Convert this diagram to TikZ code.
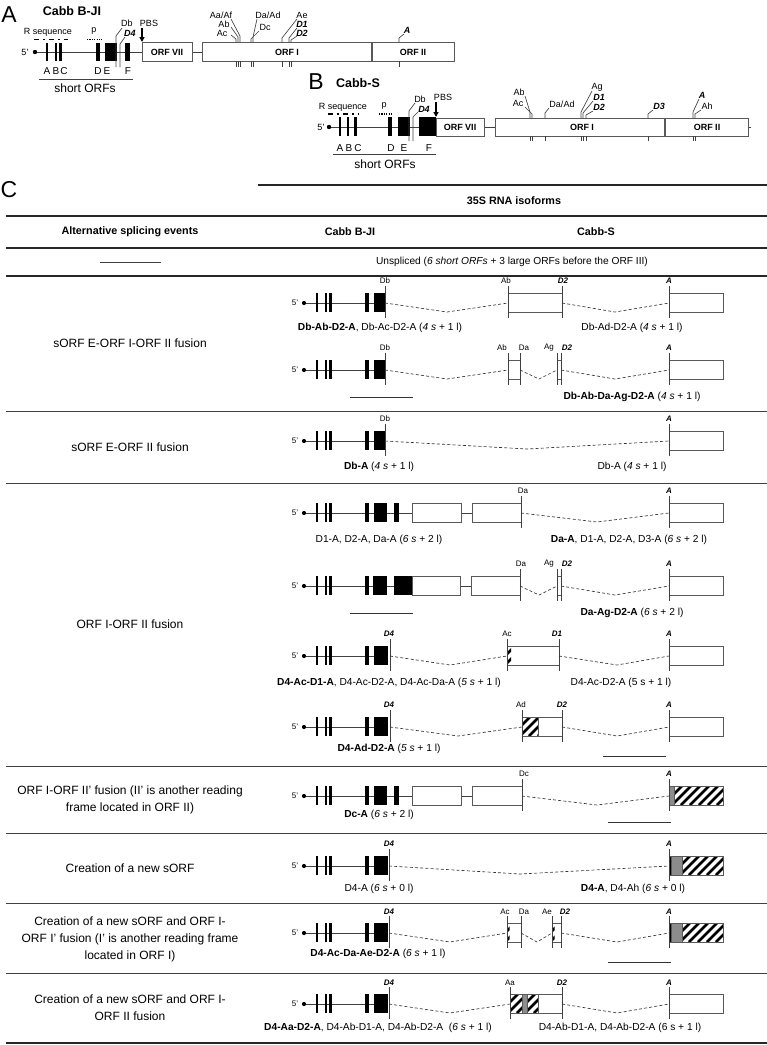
\documentclass[tikz,border=0pt]{standalone}
\usepackage{fontspec}
\setmainfont{Liberation Sans}
\usetikzlibrary{arrows.meta}

\tikzset{
  gene/.style={black!75, line width=0.8pt},
  orf/.style={draw=black!65, fill=white, line width=0.7pt},
  cut/.style={black!75, line width=0.65pt},
  splice/.style={black!80, line width=0.65pt, dash pattern=on 3pt off 2.2pt},
  rulethin/.style={black!75, line width=1pt},
  rulethick/.style={black!85, line width=1.7pt},
  scalebar/.style={black!80, line width=0.9pt},
  tsite/.style={font=\fontsize{8}{9}\selectfont, inner sep=0pt},
  btsite/.style={font=\fontsize{8}{9}\selectfont\bfseries\itshape, inner sep=0pt},
  msite/.style={font=\fontsize{9}{10}\selectfont, inner sep=0pt},
  bmsite/.style={font=\fontsize{9}{10}\selectfont\bfseries\itshape, inner sep=0pt},
  letter/.style={font=\fontsize{10}{11}\selectfont, inner sep=0pt},
  orflbl/.style={font=\fontsize{9}{10}\selectfont\bfseries, inner sep=0pt},
  panel/.style={font=\fontsize{23}{24}\selectfont, inner sep=0pt},
  ptitle/.style={font=\fontsize{12.5}{14}\selectfont\bfseries, inner sep=0pt},
  capt/.style={font=\fontsize{10.2}{12}\selectfont, inner sep=0pt},
  event/.style={font=\fontsize{12}{17}\selectfont, align=center, inner sep=0pt},
  colhead/.style={font=\fontsize{10.8}{12}\selectfont\bfseries, inner sep=0pt},
}

% genomic start of a table transcript: 5', cap, sORFs A-D
\newcommand{\sorfs}[2]{%
  \node[tsite] at (295,#1) {5'};
  \draw[gene] (304,#1) -- (#2,#1);
  \fill (304,#1) circle (2.1pt);
  \fill (316,#1-10) rectangle (318,#1+9);
  \fill (325,#1-10) rectangle (327,#1+9);
  \fill (329,#1-10) rectangle (332,#1+9);
  \fill (365,#1-10) rectangle (369,#1+9);
}
\newcommand{\cutat}[2]{\draw[cut] (#1,#2-17) -- (#1,#2+15);}
\newcommand{\exon}[3]{\draw[orf] (#1,#3-10) rectangle (#2,#3+9);}
\newcommand{\hatchbar}[3]{%
  \begin{scope}
    \clip (#1,#3-10) rectangle (#2,#3+9);
    \foreach \k in {-20,-11,...,60}
      \draw[line width=2.6pt] (#1+\k,#3+9) -- ++(19,-19);
  \end{scope}}

\begin{document}
\begin{tikzpicture}[x=1pt,y=-1pt]
\useasboundingbox (0,0) rectangle (767,1045);

% ---------- A: Cabb B-JI ----------
\node[panel] (pA) at (9,15) {A};
\node[ptitle] (tA) at (72,11) {Cabb B-JI};
\node[msite] (rsA) at (48,32) {R sequence};
\draw[line width=1.3pt, dash pattern=on 5pt off 4pt on 2pt off 4pt] (34,39.5) -- (68,39.5);
\node[msite] (ppA) at (94,31) {p};
\draw[line width=1.3pt, dash pattern=on 1.2pt off 1.2pt] (87,39.5) -- (102,39.5);
\node[msite] (fA) at (25,52) {5'};
\draw[gene] (35,52) -- (142,52) (192,52) -- (202,52);
\fill (35,52) circle (2.2pt);
\fill (46.3,43) rectangle (47.8,61);
\fill (55.3,43) rectangle (56.8,61);
\fill (59,43) rectangle (61.5,61);
\fill (96,43) rectangle (100,61);
\fill (105,43) rectangle (117,61);
\fill (125,43) rectangle (129.5,61);
\draw[cut] (116,67) -- (116,36) -- (122,28);
\node[msite] (dbA) at (127,23) {Db};
\draw[cut] (120,67) -- (120,44) -- (125,37);
\node[bmsite] (d4A) at (130,33) {D4};
\node[msite] (pbsA) at (149,23) {PBS};
\draw[-{Triangle[width=5pt,length=5pt]}, line width=1.3pt] (142,28) -- (142,42);
\draw[orf] (142,42) rectangle (192,61);
\draw[orf] (202,42) rectangle (371,61);
\draw[orf] (372,42) rectangle (454,61);
\node[orflbl] (o7A) at (167,52) {ORF VII};
\node[orflbl] (o1A) at (287,52) {ORF I};
\node[orflbl] (o2A) at (413,52) {ORF II};
\foreach \l/\x in {A/47,B/56,C/64,D/98,E/107,F/128}
  \node[letter] at (\x,71) {\l};
\draw[gene] (39,79) -- (133,79);
\node[font=\fontsize{12}{13}\selectfont, inner sep=0pt] (shA) at (85,88) {short ORFs};
% splice sites on ORF I / ORF II
\node[msite] (aaA) at (221,15) {Aa/Af};
\node[msite] (abA) at (224,24) {Ab};
\node[msite] (acA) at (222,33) {Ac};
\draw[cut] (231,19) -- (240,36) -- (240,42);
\draw[cut] (231,27) -- (238,37) -- (238,42);
\draw[cut] (231,35) -- (236,39) -- (236,42);
\node[msite] (daA) at (268,15) {Da/Ad};
\node[msite] (dcA) at (265,27) {Dc};
\draw[cut] (257,19) -- (253,37) -- (253,42);
\draw[cut] (259,31) -- (251,39) -- (251,42);
\node[msite] (aeA) at (302,15) {Ae};
\node[bmsite] (d1A) at (302,24) {D1};
\node[bmsite] (d2A) at (302,33) {D2};
\draw[cut] (297,19) -- (282,38) -- (282,42);
\draw[cut] (297,28) -- (289,38) -- (289,42);
\draw[cut] (297,36) -- (291,40) -- (291,42);
\node[bmsite] (aA) at (407,30) {A};
\draw[cut] (404,34) -- (399,38) -- (399,42);
\foreach \x in {236,238,240,251,253,282,289,291,399}
  \draw[cut] (\x,61) -- (\x,67);

% ---------- B: Cabb-S ----------
\node[panel] (pB) at (316,82) {B};
\node[ptitle] (tB) at (358,83) {Cabb-S};
\node[msite] (rsB) at (343,107) {R sequence};
\draw[line width=1.3pt, dash pattern=on 5pt off 4pt on 2pt off 4pt] (328,114) -- (359,114);
\node[msite] (ppB) at (384,106) {p};
\draw[line width=1.3pt, dash pattern=on 1.2pt off 1.2pt] (379,114) -- (393,114);
\node[msite] (fB) at (321,127) {5'};
\draw[gene] (329,127) -- (436,127) (484,127) -- (495,127) (748,127) -- (751,127);
\fill (329,127) circle (2.2pt);
\fill (339.3,117) rectangle (340.8,136);
\fill (347.3,117) rectangle (348.8,136);
\fill (353.5,117) rectangle (356.5,136);
\fill (388,117) rectangle (392,136);
\fill (398,117) rectangle (410,136);
\fill (419,117) rectangle (436,136);
\draw[cut] (409,141) -- (409,111) -- (415,103);
\node[msite] (dbB) at (420,99) {Db};
\draw[cut] (413,141) -- (413,117) -- (418,112);
\node[bmsite] (d4B) at (424,109) {D4};
\node[msite] (pbsB) at (443,97) {PBS};
\draw[-{Triangle[width=5pt,length=5pt]}, line width=1.3pt] (436,102) -- (436,117);
\draw[orf] (436,118) rectangle (484,136);
\draw[orf] (495,118) rectangle (664.5,136);
\draw[orf] (665.5,118) rectangle (748,136);
\node[orflbl] (o7B) at (460,127) {ORF VII};
\node[orflbl] (o1B) at (582,127) {ORF I};
\node[orflbl] (o2B) at (707,127) {ORF II};
\foreach \l/\x in {A/340,B/349,C/358,D/391,E/404,F/429}
  \node[letter] at (\x,148) {\l};
\draw[gene] (333,154) -- (436,154);
\node[font=\fontsize{12}{13}\selectfont, inner sep=0pt] (shB) at (385,164) {short ORFs};
\node[msite] (abB) at (519,92) {Ab};
\node[msite] (acB) at (518,103) {Ac};
\draw[cut] (525,96) -- (530,112) -- (530,118);
\draw[cut] (525,107) -- (532,114) -- (532,118);
\node[msite] (daB) at (562,104) {Da/Ad};
\draw[cut] (549,108) -- (545,113) -- (545,118);
\node[msite] (agB) at (597,87) {Ag};
\node[bmsite] (d1B) at (599,97) {D1};
\node[bmsite] (d2B) at (599,107) {D2};
\draw[cut] (592,91) -- (581,112) -- (581,118);
\draw[cut] (593,101) -- (583,113) -- (583,118);
\draw[cut] (593,111) -- (586,115) -- (586,118);
\node[bmsite] (d3B) at (659,106) {D3};
\draw[cut] (653,110) -- (648,114) -- (648,118);
\node[bmsite] (aB) at (702,95) {A};
\node[msite] (ahB) at (707,106) {Ah};
\draw[cut] (699,99) -- (693,112) -- (693,118);
\draw[cut] (701,110) -- (695,114) -- (695,118);
\foreach \x in {530,532,545,581,583,586,648,693,695}
  \draw[cut] (\x,136) -- (\x,141);

% ---------- C: table ----------
\node[panel] (pC) at (9,190) {C};
\draw[rulethick] (258,185) -- (767,185);
\node[colhead] (h35) at (514,201) {35S RNA isoforms};
\draw[rulethick] (6,216) -- (767,216);
\node[colhead] (hev) at (130,232) {Alternative splicing events};
\node[colhead] (hbj) at (350,232) {Cabb B-JI};
\node[colhead] (hcs) at (596,232) {Cabb-S};
\draw[rulethick] (6,248) -- (767,248);
\draw[rulethin] (100,262) -- (161,262);
\node[capt] (uns) at (512,262) {Unspliced (\textit{6 short ORFs} + 3 large ORFs before the ORF III)};
\draw[rulethick, line width=1.3pt] (6,276) -- (767,276);

% sORF E-ORF I-ORF II fusion
\node[event] (ev1) at (130,343) {sORF E-ORF I-ORF II fusion};
\sorfs{303}{374}
\fill (374,293) rectangle (385,312);
\cutat{385}{303} \node[tsite] at (385,281) {Db};
\draw[splice] (385,303) -- (447,312) -- (508,303);
\exon{508}{562}{303} \cutat{508}{303} \cutat{562}{303}
\node[tsite] at (506,281) {Ab};
\node[btsite] at (563,281) {D2};
\draw[splice] (562,303) -- (615,312) -- (669,303);
\exon{669}{723}{303} \cutat{669}{303}
\node[btsite] at (669,281) {A};
\node[capt] (c1a) at (380,328) {\textbf{Db-Ab-D2-A}, Db-Ac-D2-A (\textit{4 s} + 1 l)};
\node[capt] (c1b) at (632,328) {Db-Ad-D2-A (\textit{4 s} + 1 l)};

\sorfs{370}{374}
\fill (374,360) rectangle (385,379);
\cutat{385}{370} \node[tsite] at (385,348) {Db};
\draw[splice] (385,370) -- (447,379) -- (508,370);
\exon{508}{520}{370} \cutat{508}{370} \cutat{520}{370}
\draw[splice] (520,370) -- (539,379) -- (557,370);
\exon{557}{561}{370} \cutat{557}{370} \cutat{561}{370}
\draw[splice] (561,370) -- (615,379) -- (669,370);
\exon{669}{723}{370} \cutat{669}{370}
\node[tsite] at (502,348) {Ab};
\node[tsite] at (524,348) {Da};
\node[tsite] at (549,348) {Ag};
\node[btsite] at (567,348) {D2};
\node[btsite] at (669,348) {A};
\draw[scalebar] (350,397) -- (413,397);
\node[capt] (c2b) at (632,397) {\textbf{Db-Ab-Da-Ag-D2-A} (\textit{4 s} + 1 l)};
\draw[rulethin] (6,411) -- (767,411);

% sORF E-ORF II fusion
\node[event] (ev2) at (130,447) {sORF E-ORF II fusion};
\sorfs{441}{374}
\fill (374,431) rectangle (385,450);
\cutat{385}{441} \node[tsite] at (385,419) {Db};
\draw[splice] (385,441) -- (527,449) -- (669,441);
\exon{669}{723}{441} \cutat{669}{441}
\node[btsite] at (669,419) {A};
\node[capt] (c3a) at (379,467) {\textbf{Db-A} (\textit{4 s} + 1 l)};
\node[capt] (c3b) at (632,467) {Db-A (\textit{4 s} + 1 l)};
\draw[rulethin] (6,483) -- (767,483);

% ORF I-ORF II fusion
\node[event] (ev3) at (130,624) {ORF I-ORF II fusion};
\sorfs{513}{472}
\fill (374,503) rectangle (387,522);
\fill (394,503) rectangle (399,522);
\exon{412}{461}{513} \exon{472}{521}{513}
\cutat{521}{513} \node[tsite] at (523,491) {Da};
\draw[splice] (521,513) -- (597,522) -- (669,513);
\exon{669}{723}{513} \cutat{669}{513}
\node[btsite] at (669,491) {A};
\node[capt] (c4a) at (379,540) {D1-A, D2-A, Da-A (\textit{6 s} + 2 l)};
\node[capt] (c4b) at (629,540) {\textbf{Da-A}, D1-A, D2-A, D3-A (\textit{6 s} + 2 l)};

\sorfs{586}{471}
\fill (373,576) rectangle (387,595);
\fill (394,576) rectangle (412,595);
\exon{412}{460}{586} \exon{471}{520}{586}
\cutat{520}{586}
\draw[splice] (520,586) -- (539,595) -- (557,586);
\exon{557}{561}{586} \cutat{557}{586} \cutat{561}{586}
\draw[splice] (561,586) -- (615,595) -- (669,586);
\exon{669}{723}{586} \cutat{669}{586}
\node[tsite] at (521,564) {Da};
\node[tsite] at (549,564) {Ag};
\node[btsite] at (567,564) {D2};
\node[btsite] at (669,564) {A};
\draw[scalebar] (350,613) -- (413,613);
\node[capt] (c5b) at (632,613) {\textbf{Da-Ag-D2-A} (\textit{6 s} + 2 l)};

\sorfs{656}{374}
\fill (374,646) rectangle (388,665);
\cutat{390}{656} \node[btsite] at (389,634) {D4};
\draw[splice] (390,656) -- (450,665) -- (507,656);
\exon{507}{559}{656} \hatchbar{507}{511}{656}
\cutat{507}{656} \cutat{559}{656}
\node[tsite] at (507,634) {Ac};
\node[btsite] at (557,634) {D1};
\draw[splice] (559,656) -- (617,665) -- (669,656);
\exon{669}{723}{656} \cutat{669}{656}
\node[btsite] at (669,634) {A};
\node[capt] (c6a) at (389,683) {\textbf{D4-Ac-D1-A}, D4-Ac-D2-A, D4-Ac-Da-A (\textit{5 s} + 1 l)};
\node[capt] (c6b) at (621,683) {D4-Ac-D2-A (5 s + 1 l)};

\sorfs{727}{374}
\fill (374,717) rectangle (388,736);
\cutat{390}{727} \node[btsite] at (389,705) {D4};
\draw[splice] (390,727) -- (458,736) -- (522,727);
\exon{522}{562}{727} \hatchbar{522}{538}{727}
\draw[orf, fill=none] (522,717) rectangle (538,736);
\cutat{522}{727} \cutat{562}{727}
\node[tsite] at (521,705) {Ad};
\node[btsite] at (562,705) {D2};
\draw[splice] (562,727) -- (617,736) -- (669,727);
\exon{669}{723}{727} \cutat{669}{727}
\node[btsite] at (669,705) {A};
\node[capt] (c7a) at (389,749) {\textbf{D4-Ad-D2-A} (\textit{5 s} + 1 l)};
\draw[scalebar] (603,756) -- (666,756);
\draw[rulethin] (6,766) -- (767,766);

% ORF I-ORF II' fusion
\node[event] (ev4) at (130,800) {ORF I-ORF II' fusion (II' is another reading\\frame located in ORF II)};
\sorfs{796}{472}
\fill (374,786) rectangle (387,805);
\fill (394,786) rectangle (399,805);
\exon{412}{461}{796} \exon{472}{522}{796}
\cutat{522}{796} \node[tsite] at (524,774) {Dc};
\draw[splice] (522,796) -- (597,805) -- (669,796);
\exon{669}{723}{796} \hatchbar{674}{723}{796}
\draw[orf, fill=black!45] (669,786) rectangle (674,805);
\draw[orf, fill=none] (669,786) rectangle (723,805);
\cutat{669}{796} \node[btsite] at (669,774) {A};
\node[capt] (c8a) at (379,815) {\textbf{Dc-A} (\textit{6 s} + 2 l)};
\draw[scalebar] (608,822) -- (671,822);
\draw[rulethin] (6,833) -- (767,833);

% Creation of a new sORF
\node[event] (ev5) at (130,868) {Creation of a new sORF};
\sorfs{866}{374}
\fill (374,856) rectangle (388,875);
\cutat{389}{866} \node[btsite] at (389,844) {D4};
\draw[splice] (389,866) -- (520,874) -- (669,866);
\exon{669}{723}{866} \hatchbar{682}{723}{866}
\draw[orf, fill=black!45] (671,856) rectangle (682,875);
\fill (669,856) rectangle (671,875);
\draw[orf, fill=none] (669,856) rectangle (723,875);
\cutat{669}{866} \node[btsite] at (669,844) {A};
\node[capt] (c9a) at (379,889) {D4-A (\textit{6 s} + 0 l)};
\node[capt] (c9b) at (633,889) {\textbf{D4-A}, D4-Ah (\textit{6 s} + 0 l)};
\draw[rulethin] (6,903) -- (767,903);

% Creation of a new sORF and ORF I-ORF I' fusion
\node[event] (ev6) at (130,939) {Creation of a new sORF and ORF I-\\ORF I' fusion (I' is another reading frame\\located in ORF I)};
\sorfs{933}{374}
\fill (374,923) rectangle (388,942);
\cutat{389}{933} \node[btsite] at (389,912) {D4};
\draw[splice] (389,933) -- (450,942) -- (507,933);
\exon{507}{521}{933} \hatchbar{507}{509.5}{933}
\cutat{507}{933} \cutat{521}{933}
\draw[splice] (521,933) -- (537,942) -- (552,933);
\exon{552}{561}{933} \hatchbar{552}{554.5}{933}
\cutat{552}{933} \cutat{561}{933}
\node[tsite] at (505,912) {Ac};
\node[tsite] at (524,912) {Da};
\node[tsite] at (547,912) {Ae};
\node[btsite] at (565,912) {D2};
\draw[splice] (561,933) -- (617,942) -- (669,933);
\exon{669}{723}{933} \hatchbar{682}{723}{933}
\draw[orf, fill=black!45] (671,923) rectangle (682,942);
\fill (669,923) rectangle (671,942);
\draw[orf, fill=none] (669,923) rectangle (723,942);
\cutat{669}{933} \node[btsite] at (669,912) {A};
\node[capt] (c10a) at (378,954) {\textbf{D4-Ac-Da-Ae-D2-A} (\textit{6 s} + 1 l)};
\draw[scalebar] (608,962) -- (671,962);
\draw[rulethin] (6,973) -- (767,973);

% Creation of a new sORF and ORF I-ORF II fusion
\node[event] (ev7) at (130,1008) {Creation of a new sORF and ORF I-\\ORF II fusion};
\sorfs{1004}{374}
\fill (374,994) rectangle (388,1013);
\cutat{389}{1004} \node[btsite] at (389,983) {D4};
\draw[splice] (389,1004) -- (450,1013) -- (510,1004);
\exon{510}{562}{1004}
\hatchbar{510}{522}{1004} \hatchbar{527}{538}{1004}
\draw[orf, fill=black!45] (522,994) rectangle (527,1013);
\draw[orf, fill=none] (510,994) rectangle (538,1013);
\draw[orf, fill=none] (510,994) rectangle (562,1013);
\cutat{510}{1004} \cutat{562}{1004}
\node[tsite] at (510,983) {Aa};
\node[btsite] at (562,983) {D2};
\draw[splice] (562,1004) -- (617,1013) -- (669,1004);
\exon{669}{723}{1004} \cutat{669}{1004}
\node[btsite] at (669,983) {A};
\node[capt] (c11a) at (378,1028) {\textbf{D4-Aa-D2-A}, D4-Ab-D1-A, D4-Ab-D2-A\ \ (\textit{6 s} + 1 l)};
\node[capt] (c11b) at (620,1028) {D4-Ab-D1-A, D4-Ab-D2-A (6 s + 1 l)};
\draw[rulethick] (6,1043) -- (767,1043);
\end{tikzpicture}
\end{document}
